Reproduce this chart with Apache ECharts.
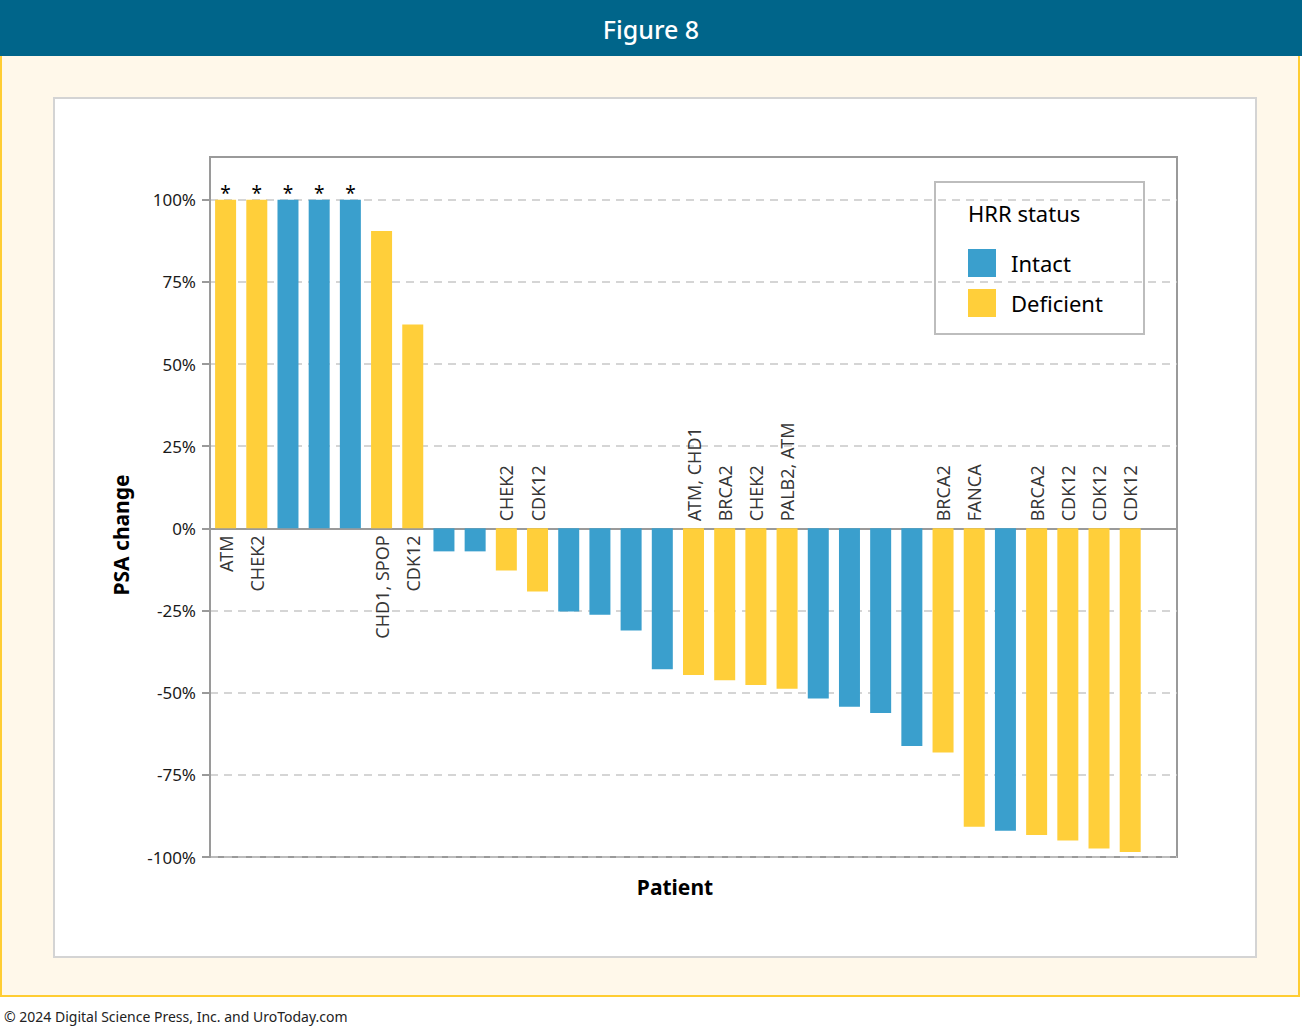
<!DOCTYPE html>
<html>
<head>
<meta charset="utf-8">
<script src="https://cdn.jsdelivr.net/npm/echarts@6/dist/echarts.min.js"></script>
<style>
  html, body { margin: 0; padding: 0; background: #fff; }
  body { width: 1302px; height: 1027px; position: relative; font-family: "Noto Sans", sans-serif; }
  #head { position: absolute; left: 0; top: 0; width: 1302px; height: 56px; background: #00658a;
          color: #fff; font-size: 25px; font-weight: 500; line-height: 58px; text-align: center; }
  #frame { position: absolute; left: 0; top: 56px; width: 1300px; height: 941px; box-sizing: border-box;
           background: #fff8ea; border: 2px solid #ffcd33; border-top: none; }
  #panel { position: absolute; left: 53px; top: 97px; width: 1204px; height: 861px; box-sizing: border-box;
           background: #fff; border: 2px solid #d4d4d4; }
  #skills { position: absolute; left: 53px; top: 97px; width: 1204px; height: 861px; }
  #foot { position: absolute; left: 4px; top: 1007px; font-size: 14px; color: #222; }
</style>
</head>
<body>
<div id="head">Figure 8</div>
<div id="frame"></div>
<div id="panel"></div>
<div id="skills"></div>
<div id="foot">© 2024 Digital Science Press, Inc. and UroToday.com</div>
<script>
// 数据
var patients = ['P1', 'P2', 'P3', 'P4', 'P5', 'P6', 'P7', 'P8', 'P9', 'P10',
  'P11', 'P12', 'P13', 'P14', 'P15', 'P16', 'P17', 'P18', 'P19', 'P20',
  'P21', 'P22', 'P23', 'P24', 'P25', 'P26', 'P27', 'P28', 'P29', 'P30'];
var psaChange = [100, 100, 100, 100, 100, 90.5, 62, -7, -7, -12.8,
  -19.2, -25.3, -26.3, -31.1, -42.9, -44.6, -46.2, -47.7, -48.8, -51.8,
  -54.3, -56.2, -66.2, -68.2, -90.8, -92, -93.3, -95, -97.4, -98.5];
var hrrStatus = ['Deficient', 'Deficient', 'Intact', 'Intact', 'Intact', 'Deficient', 'Deficient', 'Intact', 'Intact', 'Deficient',
  'Deficient', 'Intact', 'Intact', 'Intact', 'Intact', 'Deficient', 'Deficient', 'Deficient', 'Deficient', 'Intact',
  'Intact', 'Intact', 'Intact', 'Deficient', 'Deficient', 'Intact', 'Deficient', 'Deficient', 'Deficient', 'Deficient'];
var geneLabels = ['ATM', 'CHEK2', '', '', '', 'CHD1, SPOP', 'CDK12', '', '', 'CHEK2',
  'CDK12', '', '', '', '', 'ATM, CHD1', 'BRCA2', 'CHEK2', 'PALB2, ATM', '',
  '', '', '', 'BRCA2', 'FANCA', '', 'BRCA2', 'CDK12', 'CDK12', 'CDK12'];
var starred = [true, true, true, true, true, false, false, false, false, false,
  false, false, false, false, false, false, false, false, false, false,
  false, false, false, false, false, false, false, false, false, false];
var yTicks = [-100, -75, -50, -25, 0, 25, 50, 75, 100];
var statusNames = ['Intact', 'Deficient'];
var statusColors = { Intact: '#3a9fcd', Deficient: '#ffcf3a' };

function barData(status) {
  return psaChange.map(function (v, i) {
    if (hrrStatus[i] !== status) return '-';
    var item = { value: v };
    if (starred[i]) {
      item.label = { show: true, formatter: '*', position: 'top', distance: 0, offset: [0, 3], fontSize: 19, color: '#000' };
    }
    return item;
  });
}

var labelData = [];
geneLabels.forEach(function (g, i) {
  if (!g) return;
  var above = psaChange[i] < 0;
  labelData.push({
    value: [i, 0],
    label: { formatter: g, align: above ? 'left' : 'right', offset: [above ? 7 : -7, 0] }
  });
});

var myChart = echarts.init(document.getElementById('skills'), null, { renderer: 'svg' });

var option = {
  textStyle: { fontFamily: 'Noto Sans' },
  grid: { left: 157, top: 60, width: 967, height: 700, show: true, borderColor: '#9a9a9a', borderWidth: 2 },
  legend: {
    data: statusNames,
    orient: 'vertical',
    left: 910, top: 147,
    itemWidth: 28, itemHeight: 28, itemGap: 12,
    icon: 'rect',
    textStyle: { fontSize: 22, color: '#000', padding: [0, 0, 0, 10] }
  },
  graphic: [
    { type: 'rect', left: 881, top: 84, shape: { width: 209, height: 152 },
      style: { fill: '#fff', stroke: '#bdbdbd', lineWidth: 2 }, z: -1 },
    { type: 'text', left: 915, top: 105, style: { text: 'HRR status', fontSize: 22, fill: '#000', fontFamily: 'Noto Sans' } },
    { type: 'text', x: 68, y: 438, rotation: Math.PI / 2,
      style: { text: 'PSA change', fontSize: 21, fontWeight: 'bold', fill: '#000', align: 'center', verticalAlign: 'middle', fontFamily: 'Noto Sans' } },
    { type: 'text', x: 622, y: 790,
      style: { text: 'Patient', fontSize: 21, fontWeight: 'bold', fill: '#000', align: 'center', verticalAlign: 'middle', fontFamily: 'Noto Sans' } }
  ],
  xAxis: {
    type: 'category',
    data: patients,
    max: 30,
    axisLine: { onZero: true, lineStyle: { color: '#9a9a9a', width: 2 } },
    axisTick: { show: false },
    axisLabel: { show: false },
    splitLine: { show: false }
  },
  yAxis: {
    type: 'value',
    min: -100, max: 113, interval: 25,
    axisLine: { show: true, lineStyle: { color: '#9a9a9a', width: 2 } },
    axisTick: { show: true, length: 8, customValues: yTicks, lineStyle: { color: '#9a9a9a', width: 2 } },
    axisLabel: { customValues: yTicks, formatter: '{value}%', fontSize: 17, color: '#1a1a1a', margin: 14 },
    splitLine: { show: true, lineStyle: { color: '#c8c8c8', type: [8, 6], width: 1.5 } }
  },
  series: [
    {
      name: 'Intact', type: 'bar', barWidth: 21, barGap: '-100%',
      itemStyle: { color: statusColors.Intact },
      data: barData('Intact')
    },
    {
      name: 'Deficient', type: 'bar', barWidth: 21, barGap: '-100%',
      itemStyle: { color: statusColors.Deficient },
      data: barData('Deficient')
    },
    {
      name: 'labels', type: 'scatter', symbolSize: 0, silent: true, z: 5,
      label: { show: true, position: 'inside', rotate: 90, verticalAlign: 'middle', fontSize: 18, color: '#000' },
      data: labelData
    }
  ]
};

myChart.setOption(option);
</script>
</body>
</html>
